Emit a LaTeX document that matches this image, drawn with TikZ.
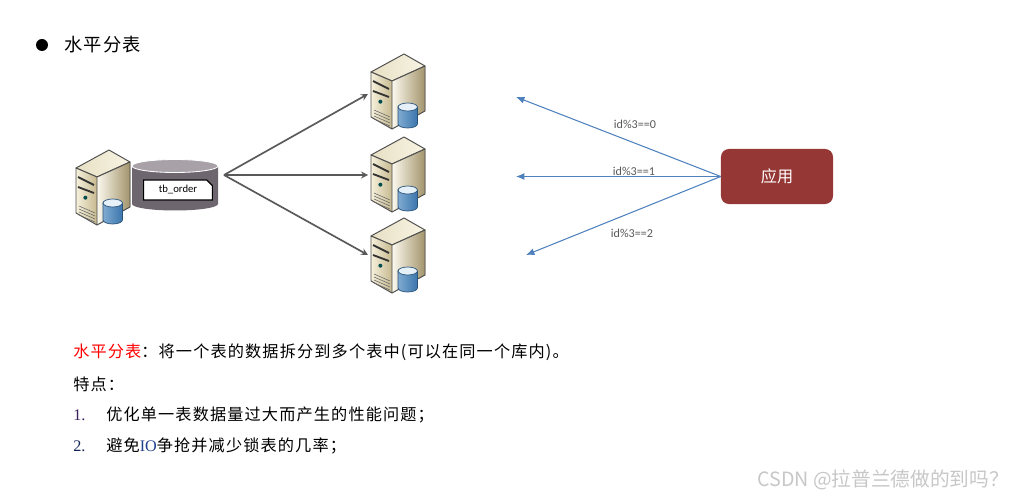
\documentclass[tikz,border=0pt]{standalone}
\usepackage{fontspec}
\newfontfamily\cjk[LetterSpace=7]{Noto Sans CJK SC}
\newfontfamily\cjkplain{Noto Sans CJK SC}
\newfontfamily\labelfont{Carlito}
\newfontfamily\numfont{Liberation Serif}
\usetikzlibrary{shapes.misc,arrows.meta}
\definecolor{linegray}{HTML}{595959}
\definecolor{lineblue}{HTML}{4F81BD}
\definecolor{appred}{HTML}{953735}
\definecolor{dbtop}{HTML}{A8A2A8}
\definecolor{dbbody}{HTML}{6E666E}
\definecolor{ioblue}{HTML}{1F3F8F}
\definecolor{srvcream}{HTML}{F6F1DC}
\definecolor{srvtan}{HTML}{C6B98F}
\definecolor{srvdark}{HTML}{A3946B}
\definecolor{srvedge}{HTML}{505050}
\definecolor{canblue}{HTML}{7FAAD0}
\definecolor{canpale}{HTML}{E6F0F8}
\definecolor{candark}{HTML}{3C76AE}
\definecolor{numpurple}{HTML}{3A1F5F}
\tikzset{
  server/.pic={
    \draw[srvedge,line width=0.7pt,line join=round,left color=srvcream!70!srvtan,right color=srvcream!80!white]
      (0,0)--(21,12)--(-12,27)--(-33,18)--cycle;
    \fill[left color=srvcream!50!white,right color=srvdark]
      (-12,27)--(21,12)--(21,57)--(-12,75)--cycle;
    \draw[srvedge,line width=0.7pt,line join=round] (-12,27)--(21,12)--(21,57)--(-12,75);
    \draw[srvedge,line width=0.7pt,line join=round,left color=srvcream,right color=srvtan]
      (-33,18)--(-12,27)--(-12,75)--(-33,63)--cycle;
    \draw[black!80,line width=1.3pt](-31,27)--(-15,35);
    \draw[black!80,line width=1.3pt](-31,37)--(-15,43);
    \fill[teal!60!black](-23.6,47.7)circle[radius=2];
    \foreach \v in {0,3,6,9}
      \draw[black!60,line width=0.4pt](-30,56+\v)--(-14,63+\v);
    \draw[candark!70!black,line width=0.5pt,left color=canblue,middle color=canpale,right color=candark]
      (-6,53)--(-6,70) arc[start angle=180,end angle=0,x radius=9.7,y radius=4]--(13.4,53)--cycle;
    \draw[candark!70!black,line width=0.5pt,fill=canpale](3.7,53)ellipse[x radius=9.7,y radius=4];
  },
  tablebox/.style={chamfered rectangle,chamfered rectangle corners=north east,chamfered rectangle xsep=2pt,chamfered rectangle ysep=2pt,draw=black,fill=white,line width=0.8pt,minimum width=1.72cm,minimum height=0.5cm,inner sep=0pt,font=\labelfont\fontsize{7.6}{8}\selectfont},
  appbox/.style={rounded corners=0.2cm,fill=appred,text=white,minimum width=2.8cm,minimum height=1.375cm,font=\cjkplain\fontsize{11.5}{12}\selectfont},
  idlabel/.style={text=linegray,inner sep=0pt,font=\labelfont\fontsize{8.6}{9}\selectfont},
  textline/.style={anchor=west,inner sep=0pt,font=\cjk\fontsize{11.5}{13}\selectfont},
  numline/.style={anchor=west,inner sep=0pt,font=\numfont\fontsize{11.5}{13}\selectfont},
}
\begin{document}
\begin{tikzpicture}[x=0.025cm,y=-0.025cm,>=stealth]
  \useasboundingbox(0,0)rectangle(1012,498);
  % heading
  \fill[black](42,45)circle[radius=6];
  \node[textline,font=\cjk\fontsize{13}{15}\selectfont] (title) at (64,45) {水平分表};
  % source server with its table
  \pic at (109,150) {server};
  \fill[dbbody](132,166)--(132,204) arc[start angle=180,end angle=0,x radius=43,y radius=6.5]--(218,166)--cycle;
  \draw[white,line width=0.6pt,fill=dbtop](175,166)ellipse[x radius=43,y radius=6.5];
  \node[tablebox] (tb) at (178,190) {tb\_order};
  \coordinate (dbout) at (224,175);
  % target servers
  \foreach \y in {54,137,218}
  {
    \pic at (404,\y) {server};
  }
  \coordinate (srva) at (368,94);
  \coordinate (srvb) at (368,175);
  \coordinate (srvc) at (368,255);
  \foreach \n in {srva,srvb,srvc}
  {
    \draw[->,linegray,line width=1.2pt](dbout)--(\n);
  }
  % application and routing
  \node[appbox] (app) at (777,176.5) {应用};
  \coordinate (ida) at (516,97);
  \coordinate (idb) at (516,176.5);
  \coordinate (idc) at (526,255);
  \foreach \n in {ida,idb,idc}
  {
    \draw[-{Latex[length=6pt,width=5pt]},lineblue,line width=0.75pt](app.west)--(\n);
  }
  \foreach \x/\y/\m/\t in {635/124/laba/0,634/171/labb/1,632/233/labc/2}
  {
    \node[idlabel] (\m) at (\x,\y) {id\%3==\t};
  }
  % notes
  \node[textline] (noteone) at (73,352) {\textcolor{red}{水平分表}：将一个表的数据拆分到多个表中(可以在同一个库内)。};
  \node[textline] (notetwo) at (73,384) {特点：};
  \node[numline,text=numpurple] (numa) at (73,415) {1.};
  \node[textline] (linea) at (106,415) {优化单一表数据量过大而产生的性能问题；};
  \node[numline,text=ioblue!60!black] (numb) at (73,446) {2.};
  \node[textline] (lineb) at (106,446) {避免{\numfont\textcolor{ioblue}{IO}}争抢并减少锁表的几率；};
  % watermark
  \node[anchor=west,inner sep=0pt,text=black!22,font=\cjkplain\fontsize{14}{16}\selectfont] (mark) at (757,480) {CSDN @拉普兰德做的到吗？};
\end{tikzpicture}
\end{document}
